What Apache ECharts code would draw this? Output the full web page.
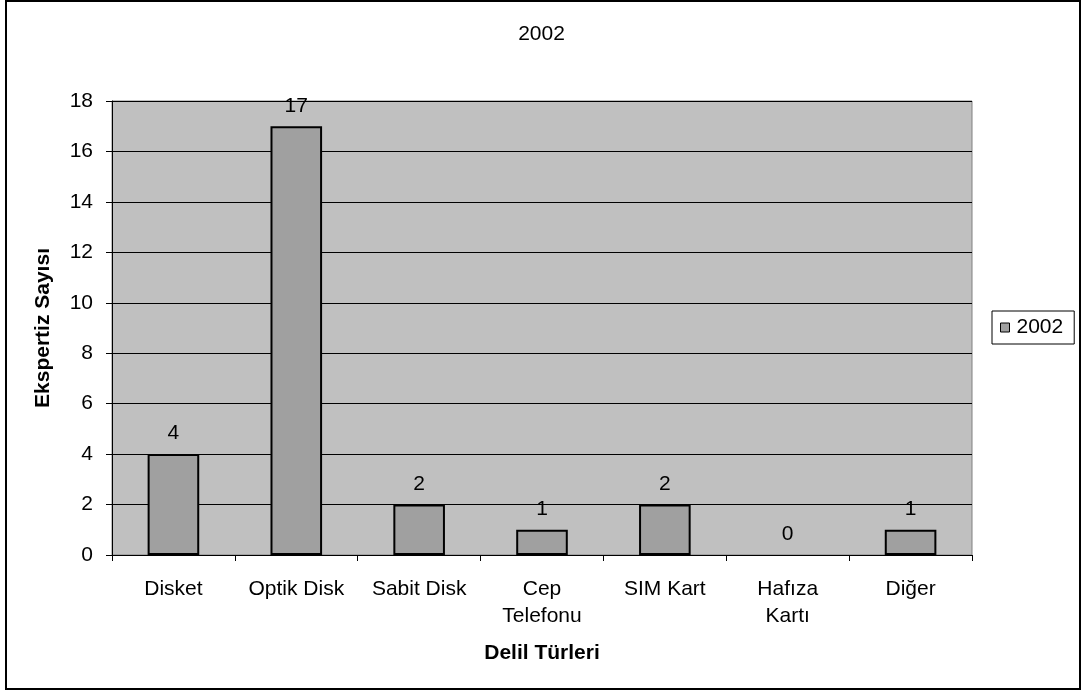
<!DOCTYPE html>
<html>
<head>
<meta charset="utf-8">
<script src="https://cdn.jsdelivr.net/npm/echarts@6/dist/echarts.min.js"></script>
<style>
  html, body { margin: 0; padding: 0; background: #fff; }
  #chart { width: 1083px; height: 693px; }
</style>
</head>
<body>
<div id="chart"></div>
<script>
// Evidence types and expert examination counts for 2002
const categories = ['Disket', 'Optik Disk', 'Sabit Disk', 'Cep\nTelefonu', 'SIM Kart', 'Hafıza\nKartı', 'Diğer'];
const values2002 = [4, 17, 2, 1, 2, 0, 1];
const seriesName = '2002';
const yTicks = { min: 0, max: 18, interval: 2 };

const font = 'Liberation Sans, Arial, sans-serif';
const chart = echarts.init(document.getElementById('chart'), null, { renderer: 'canvas' });

// Zero-height bars are left without an outline
const barData = values2002.map(v => v === 0
  ? { value: v, itemStyle: { borderWidth: 0 } }
  : v);

chart.setOption({
  animation: false,
  backgroundColor: '#fff',
  textStyle: { fontFamily: font },
  title: {
    text: '2002',
    left: 'center',
    top: 19,
    textStyle: { fontFamily: font, fontSize: 21, fontWeight: 'normal', color: '#000' }
  },
  graphic: [{
    type: 'rect',
    shape: { x: 6, y: 1, width: 1074, height: 688 },
    style: { fill: 'none', stroke: '#000', lineWidth: 2 },
    silent: true
  }],
  legend: {
    data: [seriesName],
    left: 992,
    top: 311,
    orient: 'vertical',
    icon: 'rect',
    itemWidth: 9,
    itemHeight: 9,
    itemGap: 0,
    padding: [6, 11, 6, 8],
    borderColor: '#000',
    borderWidth: 1,
    textStyle: { fontFamily: font, fontSize: 21, color: '#000', padding: [0, 0, 0, 2] },
    itemStyle: { borderColor: '#000', borderWidth: 1 }
  },
  grid: {
    left: 112,
    top: 101,
    right: 111,
    bottom: 138,
    show: true,
    backgroundColor: '#c0c0c0',
    borderColor: '#808080',
    borderWidth: 1
  },
  xAxis: {
    type: 'category',
    data: categories,
    boundaryGap: true,
    name: 'Delil Türleri',
    nameLocation: 'middle',
    nameGap: 88,
    nameTextStyle: { fontFamily: font, fontSize: 21, fontWeight: 'bold', color: '#000' },
    axisLine: { lineStyle: { color: '#000', width: 1 } },
    axisTick: { show: true, length: 6, alignWithLabel: false, lineStyle: { color: '#000' } },
    axisLabel: { fontFamily: font, fontSize: 21, color: '#000', margin: 21, lineHeight: 27, interval: 0 },
    splitLine: { show: false }
  },
  yAxis: {
    type: 'value',
    min: yTicks.min,
    max: yTicks.max,
    interval: yTicks.interval,
    name: 'Ekspertiz Sayısı',
    nameLocation: 'middle',
    nameGap: 58,
    nameRotate: 90,
    nameTextStyle: { fontFamily: font, fontSize: 21, fontWeight: 'bold', color: '#000' },
    axisLine: { show: true, lineStyle: { color: '#000', width: 1 } },
    axisTick: { show: true, length: 6, lineStyle: { color: '#000' } },
    axisLabel: { fontFamily: font, fontSize: 21, color: '#000', margin: 19 },
    splitLine: { show: true, lineStyle: { color: '#000', width: 1 } }
  },
  series: [{
    name: seriesName,
    type: 'bar',
    data: barData,
    barWidth: '42%',
    itemStyle: { color: '#a0a0a0', borderColor: '#000', borderWidth: 2 },
    label: {
      show: true,
      position: 'top',
      distance: 10,
      fontFamily: font,
      fontSize: 21,
      color: '#000'
    }
  }]
});
</script>
</body>
</html>
